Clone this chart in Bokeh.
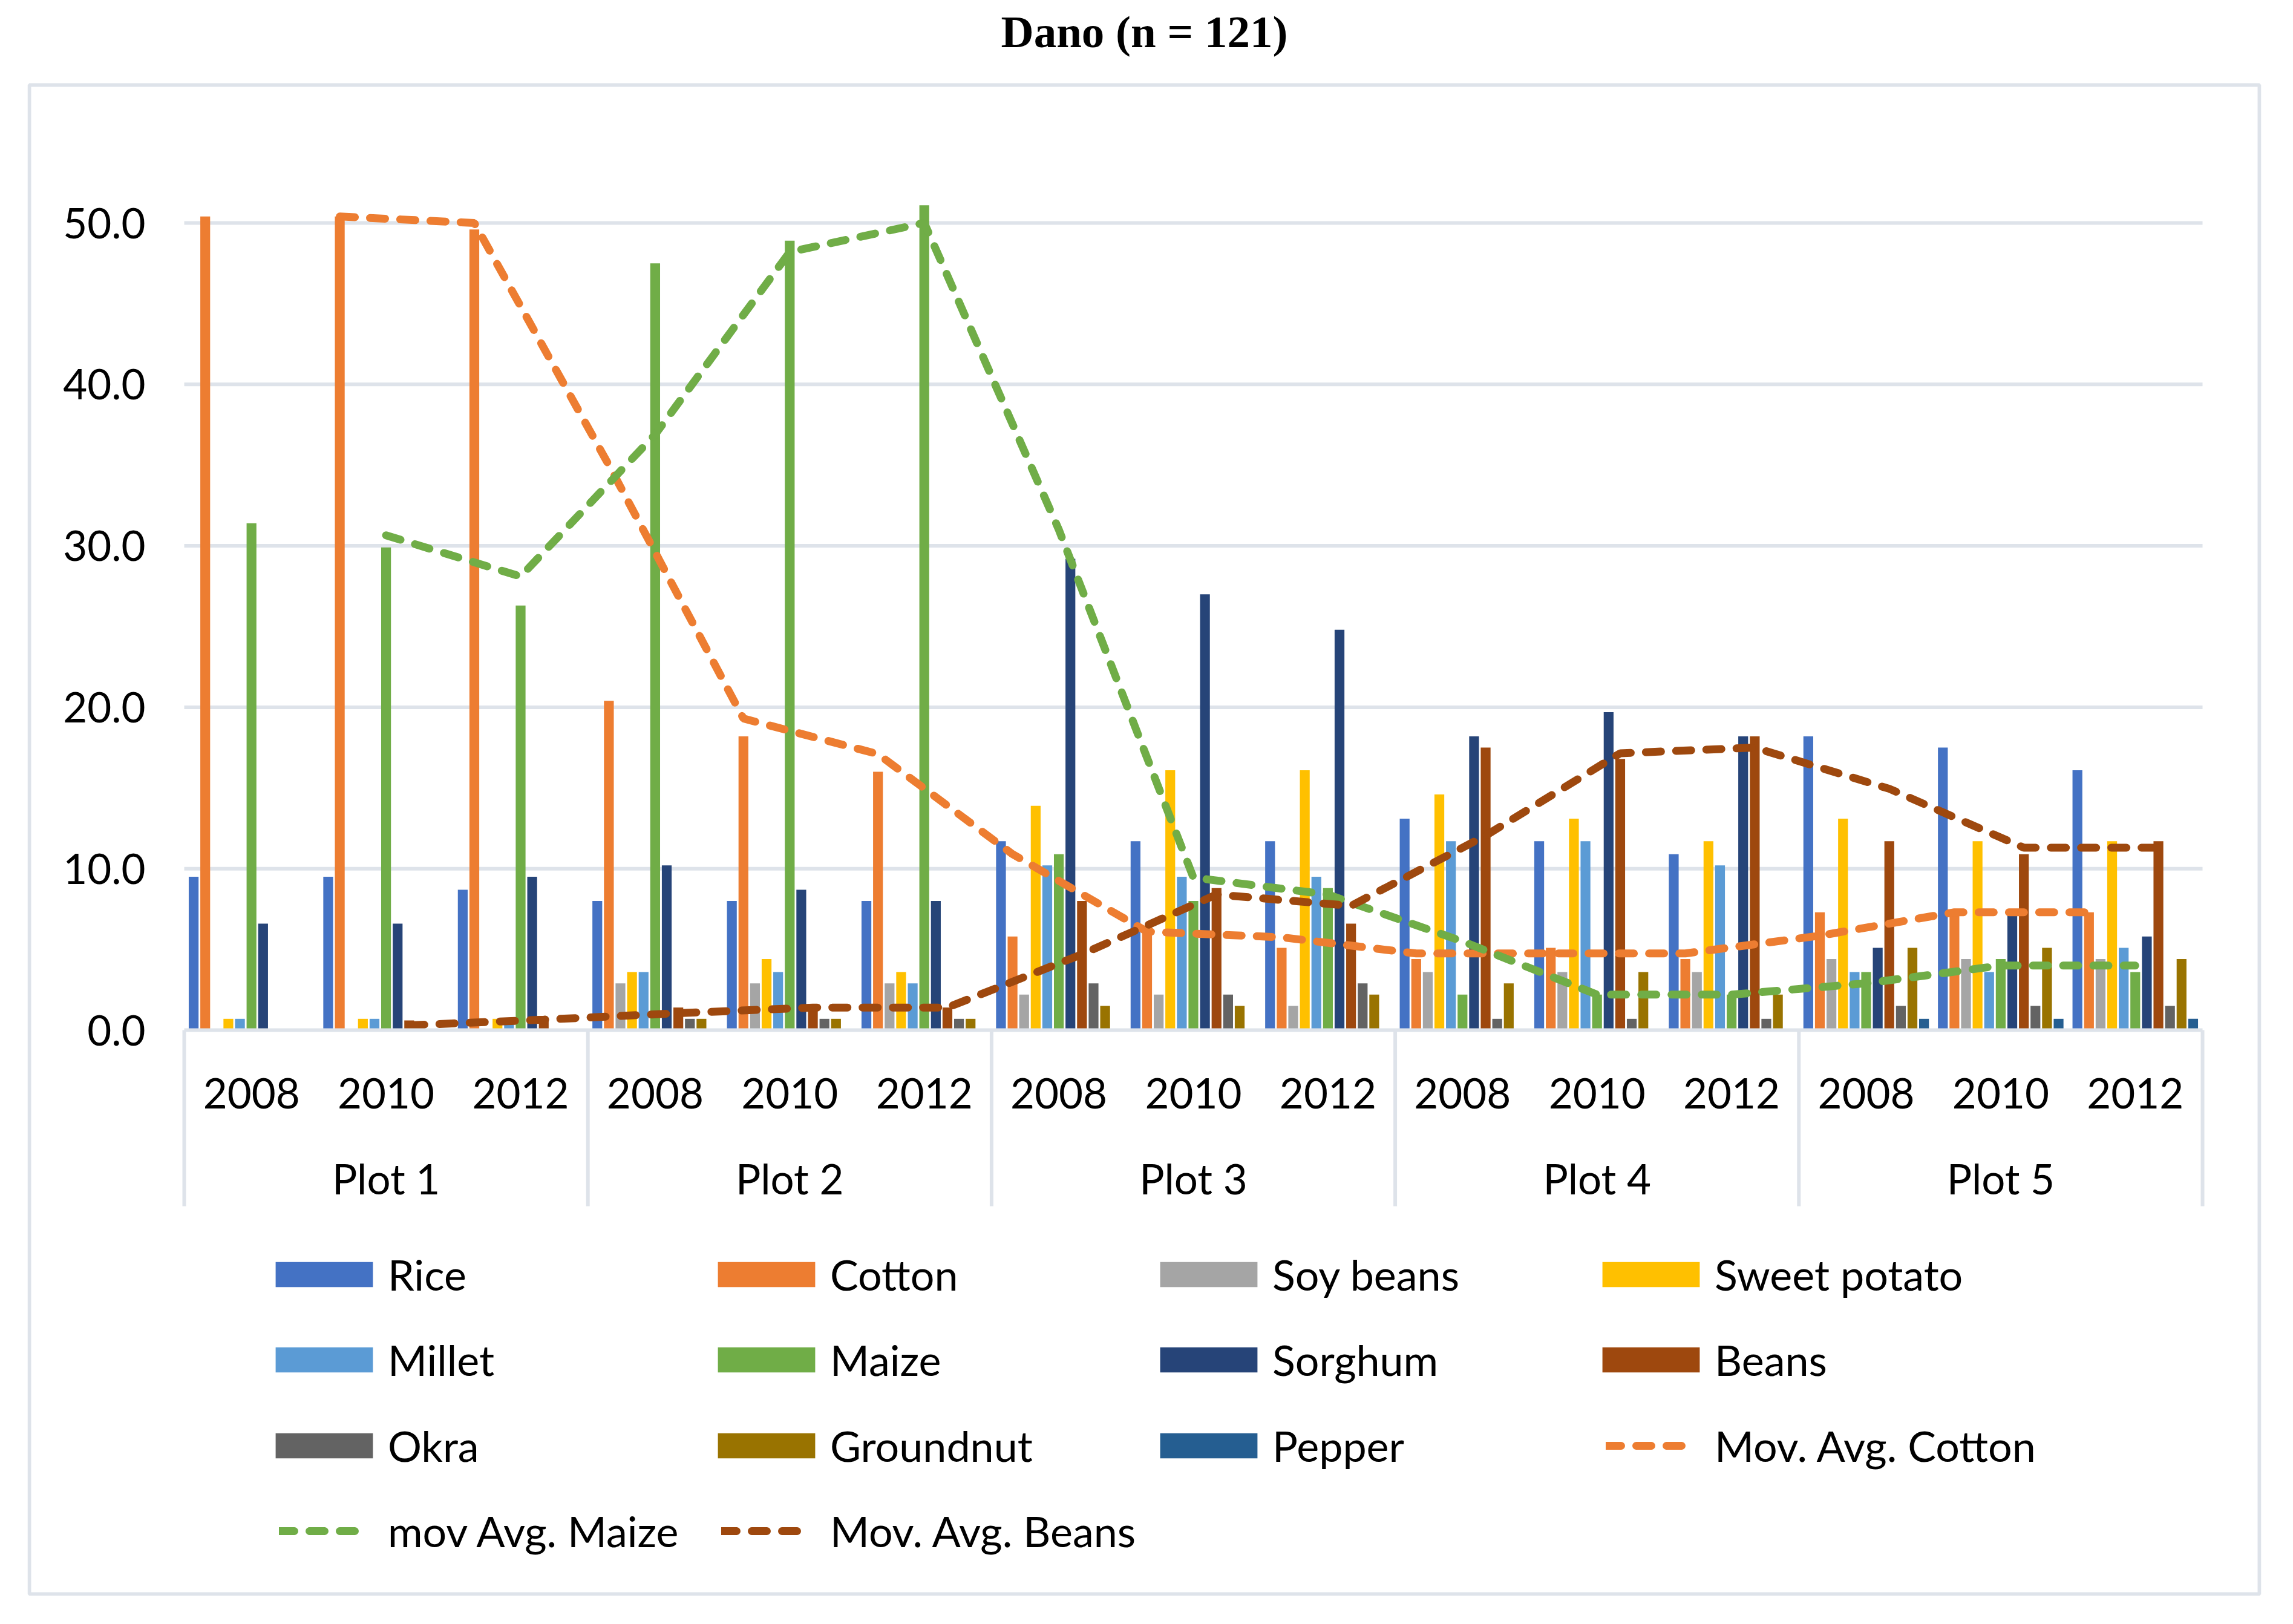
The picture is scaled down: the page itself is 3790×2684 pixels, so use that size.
from bokeh.plotting import figure
from bokeh.models import (Range1d, FixedTicker, NumeralTickFormatter, LinearAxis,
                          Legend, LegendItem, ColumnDataSource, BoxAnnotation)
from bokeh.transform import dodge
from bokeh.embed import file_html
from bokeh.resources import INLINE
import numpy as np

# ---------------- data ----------------
plots = ["Plot 1", "Plot 2", "Plot 3", "Plot 4", "Plot 5"]
years = ["2008", "2010", "2012"]

crops = ["Rice", "Cotton", "Soy beans", "Sweet potato", "Millet", "Maize",
         "Sorghum", "Beans", "Okra", "Groundnut", "Pepper"]

rice         = [9.5, 9.5, 8.7,   8.0, 8.0, 8.0,    11.7, 11.7, 11.7, 13.1, 11.7, 10.9, 18.2, 17.5, 16.1]
cotton       = [50.4, 50.4, 49.6, 20.4, 18.2, 16.0, 5.8, 6.4, 5.1,    4.4, 5.1, 4.4,    7.3, 7.3, 7.3]
soy_beans    = [0.0, 0.0, 0.0,   2.9, 2.9, 2.9,    2.2, 2.2, 1.5,    3.6, 3.6, 3.6,    4.4, 4.4, 4.4]
sweet_potato = [0.7, 0.7, 0.7,   3.6, 4.4, 3.6,    13.9, 16.1, 16.1, 14.6, 13.1, 11.7, 13.1, 11.7, 11.7]
millet       = [0.7, 0.7, 0.4,   3.6, 3.6, 2.9,    10.2, 9.5, 9.5,   11.7, 11.7, 10.2, 3.6, 3.6, 5.1]
maize        = [31.4, 29.9, 26.3, 47.5, 48.9, 51.1, 10.9, 8.0, 8.8,  2.2, 2.2, 2.2,    3.6, 4.4, 3.6]
sorghum      = [6.6, 6.6, 9.5,   10.2, 8.7, 8.0,   29.2, 27.0, 24.8, 18.2, 19.7, 18.2, 5.1, 7.1, 5.8]
beans        = [0.0, 0.6, 0.7,   1.4, 1.4, 1.4,    8.0, 8.8, 6.6,    17.5, 16.8, 18.2, 11.7, 10.9, 11.7]
okra         = [0.0, 0.0, 0.0,   0.7, 0.7, 0.7,    2.9, 2.2, 2.9,    0.7, 0.7, 0.7,    1.5, 1.5, 1.5]
groundnut    = [0.0, 0.0, 0.0,   0.7, 0.7, 0.7,    1.5, 1.5, 2.2,    2.9, 3.6, 2.2,    5.1, 5.1, 4.4]
pepper       = [0.0, 0.0, 0.0,   0.0, 0.0, 0.0,    0.0, 0.0, 0.0,    0.0, 0.0, 0.0,    0.7, 0.7, 0.7]

series_values = [rice, cotton, soy_beans, sweet_potato, millet, maize,
                 sorghum, beans, okra, groundnut, pepper]
colors = ["#4472C4", "#ED7D31", "#A5A5A5", "#FFC000", "#5B9BD5", "#70AD47",
          "#264478", "#9E480E", "#636363", "#997300", "#255E91"]

trend_labels = ["Mov. Avg. Cotton", "mov Avg. Maize", "Mov. Avg. Beans"]
trend_series = ["Cotton", "Maize", "Beans"]

y_ticks = [0, 10, 20, 30, 40, 50]

# ---------------- layout (canvas pixels) ----------------
W, H = 3774, 2668
BOX_L, BOX_R, BOX_T, BOX_B = 48, 3734, 140, 2634     # chart border
FR_L, FR_R, FR_T, FR_B = 45, 3737, 95, 2637          # plot frame (holds the border)
PA_L, PA_R = 304, 3640                               # plot-area left/right
Y0_PX, Y50_PX = 1702, 368                            # pixel rows of 0 and 50
SEP_BOTTOM_PX = 1993                                 # bottom of category separators

n_cat = len(plots) * len(years)
ux = (PA_R - PA_L) / n_cat
uy = (Y0_PX - Y50_PX) / 50.0
px_to_x = lambda px: (px - PA_L) / ux
px_to_y = lambda py: (Y0_PX - py) / uy

GRID = "#DEE3EA"
FONT = "Lato"
FS = "69px"
LFS = "70px"

p = figure(x_range=Range1d(px_to_x(FR_L), px_to_x(FR_R)),
           y_range=Range1d(px_to_y(FR_B), px_to_y(FR_T)),
           x_axis_type=None, y_axis_type=None,
           width=W, height=H, output_backend="svg", toolbar_location=None,
           min_border_left=FR_L, min_border_right=W - FR_R,
           min_border_top=FR_T, min_border_bottom=H - FR_B,
           outline_line_color=None,
           background_fill_color="white", border_fill_color="white")
p.xgrid.visible = False
p.ygrid.visible = False

p.title.text = "Dano (n = 121)"
p.title.text_font = "Liberation Serif"
p.title.text_font_style = "bold"
p.title.text_font_size = "75px"
p.title.align = "center"
p.title.vertical_align = "top"
p.title.standoff = 0
p.title.text_color = "black"

# chart border
p.add_layout(BoxAnnotation(left=px_to_x(BOX_L), right=px_to_x(BOX_R),
                           top=px_to_y(BOX_T), bottom=px_to_y(BOX_B),
                           fill_alpha=0, line_color=GRID, line_alpha=1.0,
                           line_width=6, level="underlay"))

# category centres (one per plot/year)
cat_x = np.arange(n_cat) + 0.5
cat_labels = [yr for pl in plots for yr in years]

# horizontal gridlines (inside plot area only)
p.segment(x0=0, x1=n_cat, y0=y_ticks[1:], y1=y_ticks[1:], line_color=GRID, line_width=6)

# bars
pitch, bw = 0.086, 0.073
data = {"x": cat_x}
for c, v in zip(crops, series_values):
    data[c] = v
src = ColumnDataSource(data)
renderers = {}
for i, (c, col) in enumerate(zip(crops, colors)):
    off = (i - 5) * pitch
    r = p.vbar(x=dodge("x", off), top=c, width=bw, source=src,
               fill_color=col, line_color=None)
    renderers[c] = r

# moving averages (2-period trendlines)
for lab, s in zip(trend_labels, trend_series):
    i = crops.index(s)
    vals = np.array(series_values[i], dtype=float)
    ma = np.full(len(vals), np.nan)
    ma[1:] = (vals[1:] + vals[:-1]) / 2.0
    lsrc = ColumnDataSource(dict(x=cat_x, y=ma))
    r = p.line(x=dodge("x", (i - 5) * pitch), y="y", source=lsrc,
               line_color=colors[i], line_width=13, line_dash="25 25", line_cap="round")
    renderers[lab] = r

# category separators
sep_x = [k * len(years) for k in range(len(plots) + 1)]
p.segment(x0=sep_x, x1=sep_x, y0=0, y1=px_to_y(SEP_BOTTOM_PX), line_color=GRID, line_width=6)

# y axis
ya = LinearAxis(fixed_location=0, ticker=FixedTicker(ticks=y_ticks),
                formatter=NumeralTickFormatter(format="0.0"))
ya.axis_line_color = None
ya.major_tick_line_color = None
ya.minor_tick_line_color = None
ya.major_label_text_font = FONT
ya.major_label_text_font_size = FS
ya.major_label_text_color = "black"
ya.major_label_standoff = 58
p.add_layout(ya, "left")

# x axis: years
xa = LinearAxis(fixed_location=0, ticker=FixedTicker(ticks=[float(v) for v in cat_x]),
                major_label_overrides={float(x): l for x, l in zip(cat_x, cat_labels)},
                bounds=(0, n_cat))
xa.axis_line_color = GRID
xa.axis_line_width = 6
xa.major_tick_line_color = None
xa.minor_tick_line_color = None
xa.major_label_text_font = FONT
xa.major_label_text_font_size = FS
xa.major_label_text_color = "black"
xa.major_label_standoff = 73
p.add_layout(xa, "below")

# x axis: plots
plot_x = [len(years) * k + len(years) / 2.0 for k in range(len(plots))]
xa2 = LinearAxis(fixed_location=0, ticker=FixedTicker(ticks=plot_x),
                 major_label_overrides={float(x): l for x, l in zip(plot_x, plots)})
xa2.axis_line_color = None
xa2.major_tick_line_color = None
xa2.minor_tick_line_color = None
xa2.major_label_text_font = FONT
xa2.major_label_text_font_size = FS
xa2.major_label_text_color = "black"
xa2.major_label_standoff = 197
p.add_layout(xa2, "below")

# legend (4 columns, pitch 731 px); bar entries and line entries are laid out
# as separate horizontal legends so each kind of swatch gets its own size
COL_PITCH, SW_LEFT, TXT_LEFT = 731, 455, 641
LH = 100
legend_groups = [  # (names, row centre px, first column, kind)
    (["Rice", "Cotton", "Soy beans", "Sweet potato"], 2106, 0, "bar"),
    (["Millet", "Maize", "Sorghum", "Beans"], 2247, 0, "bar"),
    (["Okra", "Groundnut", "Pepper"], 2389, 0, "bar"),
    (["Mov. Avg. Cotton"], 2389, 3, "line"),
    (["mov Avg. Maize", "Mov. Avg. Beans"], 2530, 0, "line"),
]
for names, rc, col0, kind in legend_groups:
    if kind == "bar":
        gw, gh = 201, 52            # rect legend glyphs are drawn at 80 %
        lx = SW_LEFT - 20
    else:
        gw, gh = 150, 52
        lx = SW_LEFT + 6
    lx += col0 * COL_PITCH
    stand = TXT_LEFT + col0 * COL_PITCH - lx - gw
    items = [LegendItem(label=n, renderers=[renderers[n]]) for n in names]
    lg = Legend(items=items, orientation="horizontal",
                location=(lx - FR_L, FR_B - (rc + LH // 2)),
                padding=0, margin=0, spacing=0, glyph_width=gw, glyph_height=gh,
                label_width=COL_PITCH - gw - stand, label_height=LH,
                label_standoff=stand,
                label_text_font=FONT, label_text_font_size=LFS,
                label_text_color="black", border_line_color=None,
                background_fill_alpha=0)
    p.add_layout(lg, "center")

open("out.html", "w").write(file_html(p, INLINE))
